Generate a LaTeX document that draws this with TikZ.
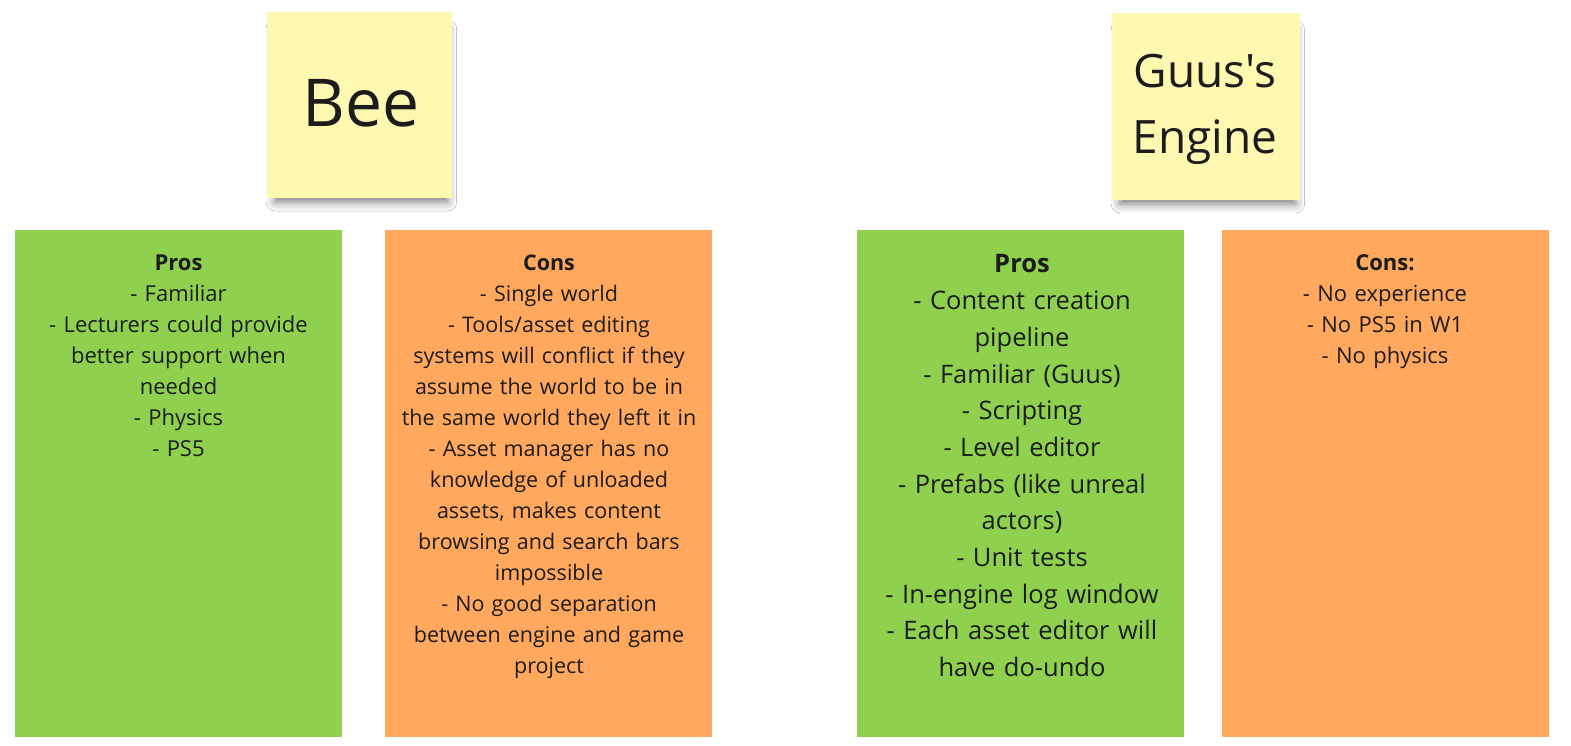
\documentclass[tikz,border=0pt]{standalone}
\usepackage{fontspec}
\setmainfont{Open Sans}
\newfontfamily\titlefont{Open Sans}
\usetikzlibrary{shadows.blur}
\definecolor{stickyyellow}{RGB}{255,248,177}
\definecolor{progreen}{RGB}{143,209,79}
\definecolor{conorange}{RGB}{255,168,94}
\definecolor{ink}{RGB}{28,28,28}
\tikzset{
  stickynote/.style={rectangle, fill=stickyyellow, draw=none, inner sep=0pt,
    blur shadow={shadow xshift=2pt, shadow yshift=-11pt, shadow blur radius=10pt, shadow opacity=55, shadow scale=0.93}},
  listbox/.style={rectangle, draw=none, inner sep=0pt, minimum width=327pt, minimum height=507pt},
  probox/.style={listbox, fill=progreen},
  conbox/.style={listbox, fill=conorange},
  smalltxt/.style={anchor=north, inner sep=0pt, text=ink, align=center, text width=325pt,
    font=\fontsize{22}{31}\selectfont},
  bigtxt/.style={anchor=north, inner sep=0pt, text=ink, align=center, text width=325pt,
    font=\fontsize{25.5}{36.7}\selectfont},
  titletxt/.style={inner sep=0pt, text=ink, align=center},
}
\begin{document}
\begin{tikzpicture}[x=1pt,y=-1pt]
\useasboundingbox[fill=white] (0,0) rectangle (1571,746);
% sticky notes
\node[stickynote, minimum width=185pt, minimum height=186pt] (beenote) at (359.5,105) {};
\node[stickynote, minimum width=188pt, minimum height=187pt] (guusnote) at (1206,106.5) {};
\node[titletxt, anchor=base, font=\titlefont\fontsize{66}{80}\selectfont] (beetitle) at (361,127) {Bee};
\node[titletxt, anchor=north, font=\titlefont\fontsize{46}{66}\selectfont] (guustitle) at (1205,53.5) {Guus's\\Engine};
% boxes
\node[probox] (beepros) at (178.5,483.5) {};
\node[conbox] (beecons) at (548,483.5) {};
\node[probox] (guuspros) at (1020,483.5) {};
\node[conbox] (guuscons) at (1385,483.5) {};
% texts
\node[smalltxt] (beeprostxt) at (178.5,255) {\textbf{Pros}\\- Familiar\\- Lecturers could provide\\better support when\\needed\\- Physics\\- PS5};
\node[smalltxt, font=\fontsize{21.5}{31}\selectfont] (beeconstxt) at (549,254.5) {\textbf{Cons}\\- Single world\\- Tools/asset editing\\systems will conflict if they\\assume the world to be in\\the same world they left it in\\- Asset manager has no\\knowledge of unloaded\\assets, makes content\\browsing and search bars\\impossible\\- No good separation\\between engine and game\\project};
\node[bigtxt] (guusprostxt) at (1022,254.5) {\textbf{Pros}\\- Content creation\\pipeline\\- Familiar (Guus)\\- Scripting\\- Level editor\\- Prefabs (like unreal\\actors)\\- Unit tests\\- In-engine log window\\- Each asset editor will\\have do-undo};
\node[smalltxt] (guusconstxt) at (1385,254.5) {\textbf{Cons:}\\- No experience\\- No PS5 in W1\\- No physics};
\end{tikzpicture}
\end{document}
